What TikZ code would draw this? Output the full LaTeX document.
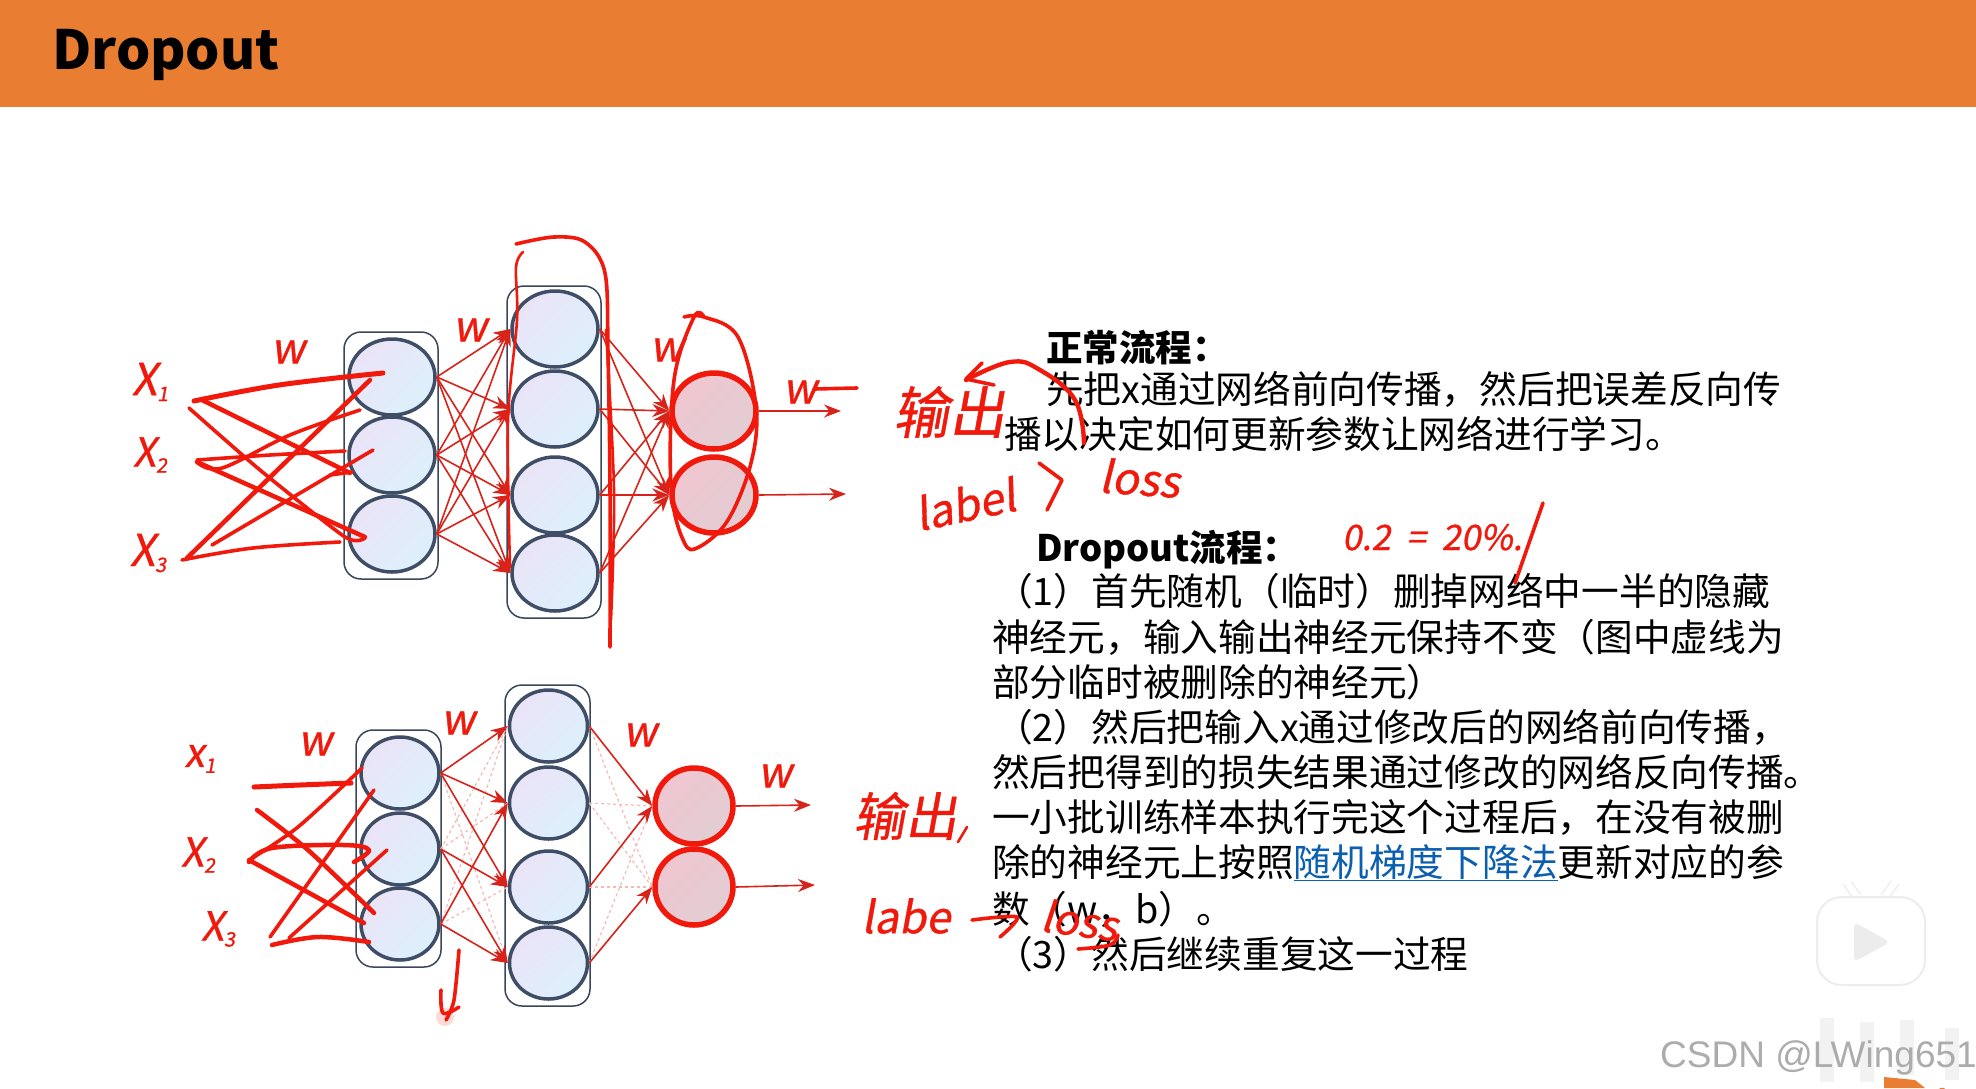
\documentclass[tikz,border=0pt]{standalone}
\usepackage{fontspec}
\usepackage{xcolor}
\setmainfont{Noto Sans CJK SC}
\newfontfamily\cjk{Noto Sans CJK SC}
\newfontfamily\hand{Noto Sans CJK SC}[FakeSlant=0.18,FakeBold=0.8]
\newfontfamily\latn{Liberation Sans}
\usetikzlibrary{shapes.geometric,arrows.meta,shadows}
\definecolor{hred}{HTML}{F0190C}
\definecolor{wire}{HTML}{D8231A}
\definecolor{ghost}{HTML}{F6B9B2}
\definecolor{ring}{HTML}{3F4E66}
\definecolor{orangebar}{HTML}{E97E32}
\definecolor{linkblue}{HTML}{0B5FB0}
\definecolor{cellA}{HTML}{EAE4F7}
\definecolor{cellB}{HTML}{DDF0FC}
\definecolor{outA}{HTML}{F0C6D0}
\definecolor{outB}{HTML}{E2CDD3}
\newcommand{\hsub}[1]{{\fontsize{20}{20}\selectfont\raisebox{-6pt}{#1}}}
\tikzset{
  x=1pt,y=-1pt,
  layerbox/.style={draw=ring!90!black,line width=1.5pt,rounded corners=17pt,fill=none},
  bigneuron/.style={ellipse,draw=ring,line width=3.5pt,inner sep=0pt,minimum width=86pt,minimum height=76pt,left color=cellA,right color=cellB,shading angle=45},
  smallneuron/.style={bigneuron,minimum width=78pt,minimum height=72pt},
  outneuron/.style={ellipse,draw=hred,line width=5.5pt,inner sep=0pt,minimum width=84pt,minimum height=76pt,left color=outA,right color=outB,shading angle=45},
  outneuronb/.style={outneuron,minimum width=78pt},
  wireline/.style={draw=wire,line width=1.6pt,-{Stealth[length=17pt,width=13pt]}},
  ghostline/.style={draw=ghost,line width=1.2pt,dashed},
  handstroke/.style={draw=hred,line width=3.6pt,line cap=round,line join=round},
  handthin/.style={handstroke,line width=2.6pt},
  handlabel/.style={text=hred,inner sep=0pt,font=\hand\fontsize{#1}{#1}\selectfont},
  bodytext/.style={anchor=base west,inner sep=0pt,font=\cjk\fontsize{37.7}{37.7}\selectfont},
  headtext/.style={anchor=base west,inner sep=0pt,font=\cjk\bfseries\fontsize{36.5}{36.5}\selectfont},
}
\begin{document}
\begin{tikzpicture}
\useasboundingbox (0,0) rectangle (1976,1088);
\fill[white] (0,0) rectangle (1976,1088);
\fill[orangebar] (0,0) rectangle (1976,107);
\node[anchor=base west,inner sep=0pt,font=\cjk\bfseries\fontsize{54}{54}\selectfont] (title) at (52,69) {Dropout};

% body text
\node[headtext] (t1) at (1046,361) {正常流程：};
\node[bodytext] (t2) at (1046,403) {先把x通过网络前向传播，然后把误差反向传};
\node[bodytext] (t3) at (1004,448) {播以决定如何更新参数让网络进行学习。};
\node[headtext] (t4) at (1036,561) {Dropout流程：};
\node[bodytext] (t5) at (995,605) {（1）首先随机（临时）删掉网络中一半的隐藏};
\node[bodytext] (t6) at (992,651) {神经元，输入输出神经元保持不变（图中虚线为};
\node[bodytext] (t7) at (992,696) {部分临时被删除的神经元）};
\node[bodytext] (t8) at (995,741) {（2）然后把输入x通过修改后的网络前向传播，};
\node[bodytext] (t9) at (992,786) {然后把得到的损失结果通过修改的网络反向传播。};
\node[bodytext] (t10) at (992,831) {一小批训练样本执行完这个过程后，在没有被删};
\node[bodytext] (t11) at (992,876) {除的神经元上按照{\color{linkblue}\underline{随机梯度下降法}}更新对应的参};
\node[bodytext] (t12) at (992,923) {数（w，b）。};
\node[bodytext] (t13) at (995,968) {（3）然后继续重复这一过程};

% top network
\draw[layerbox] (344,332) rectangle (438,579);
\draw[layerbox] (507,286) rectangle (601,618);
\foreach \n/\y in {a1/377,a2/455,a3/534} \node[bigneuron] (\n) at (392,\y) {};
\foreach \n/\y in {b1/329,b2/409,b3/495,b4/573} \node[bigneuron] (\n) at (555,\y) {};
\node[outneuron] (o1) at (714,411) {};
\node[outneuron] (o2) at (714,495) {};
\coordinate (oe1) at (841,411);
\coordinate (oe2) at (846,494);
\foreach \s in {a1,a2,a3} \foreach \t in {b1,b2,b3,b4} \draw[wireline] (\s.east) -- (\t.west);
\foreach \s in {b1,b2,b3,b4} \foreach \t in {o1,o2} \draw[wireline] (\s.east) -- (\t.west);
\draw[wireline] (o1.east) -- (oe1);
\draw[wireline] (o2.east) -- (oe2);

% bottom network
\draw[layerbox] (356,730) rectangle (441,967);
\draw[layerbox] (505,685) rectangle (590,1006);
\foreach \n/\y in {c1/773,c2/849,c3/924} \node[smallneuron] (\n) at (400,\y) {};
\foreach \n/\y in {d1/726,d2/803,d3/887,d4/963} \node[smallneuron] (\n) at (548.5,\y) {};
\node[outneuronb] (p1) at (694,806) {};
\node[outneuronb] (p2) at (694,887) {};
\coordinate (pe1) at (811,805);
\coordinate (pe2) at (815,885);
\foreach \s/\t in {c1/d4,c2/d1,c2/d2,c3/d1,c3/d3,d1/p2,d2/p1,d2/p2,d3/p2,d4/p1}
  \draw[ghostline] (\s.east) -- (\t.west);
\foreach \s/\t in {c1/d1,c1/d2,c1/d3,c2/d3,c2/d4,c3/d2,c3/d4,d1/p1,d3/p1,d4/p2}
  \draw[wireline] (\s.east) -- (\t.west);
\draw[wireline] (p1.east) -- (pe1);
\draw[wireline] (p2.east) -- (pe2);

% handwriting: top network
\node[handlabel=44] (hx1) at (150,382) {X\hsub{1}};
\node[handlabel=40] (hx2) at (150,455) {X\hsub{2}};
\node[handlabel=44] (hx3) at (148,553) {X\hsub{3}};
\node[handlabel=42] (hw1) at (288,352) {w};
\node[handlabel=42] (hw2) at (470,330) {w};
\node[handlabel=42] (hw3) at (667,350) {w};
\node[handlabel=42] (hw4) at (800,392) {w};
\draw[handstroke] (814,389) -- (857,388);

\draw[handstroke,line width=5pt] plot[smooth,tension=.6] coordinates {(194,401) (279,385) (383,373)};
\draw[handstroke,line width=4.5pt] (202,400) -- (350,473);
\draw[handstroke] plot[smooth,tension=.4] coordinates {(189,408) (260,470) (345,537) (365,538)};
\draw[handstroke] plot[smooth,tension=.5] coordinates {(197,460) (270,455) (345,451)};
\draw[handstroke] plot[smooth,tension=.6] coordinates {(197,462) (222,468) (290,435) (360,410)};
\draw[handstroke,line width=4.5pt] (197,462) -- (365,537);
\draw[handstroke,line width=4.5pt] (187,558) -- (370,380);
\draw[handstroke] (212,545) -- (373,450);
\draw[handstroke] plot[smooth,tension=.6] coordinates {(182,560) (253,548) (340,542)};
\draw[handstroke] (330,475) -- (352,472);

\draw[handstroke] plot[smooth,tension=.55] coordinates {(516,244) (554,237) (585,242) (605,273) (608,353) (610,487) (610,647)};
\draw[handthin] plot[smooth,tension=.55] coordinates {(523,252) (516,267) (517,320) (508,420) (510,567)};
\draw[handthin] plot[smooth,tension=.55] coordinates {(606,330) (614,490) (611,620)};
\draw[handstroke] plot[smooth,tension=.6] coordinates {(684,317) (704,317) (738,337) (756,407) (751,463) (728,520) (699,547) (684,542) (671,487) (674,380) (694,317) (704,317)};

% handwriting: right of the top network
\node[handlabel=56] (hout1) at (949,412) {输出};
\draw[handstroke,line width=4.4pt] plot[smooth,tension=.7] coordinates {(1084,443) (1075,400) (1040,370) (1010,362) (966,380)};
\draw[handstroke] (982,363) -- (966,379) -- (994,385);
\node[handlabel=44,rotate=12] (hlab1) at (965,504) {label};
\draw[handstroke] (1039,463) -- (1062,480) -- (1047,510);
\node[handlabel=44,rotate=-4] (hloss1) at (1140,478) {loss};
\node[handlabel=35,anchor=base west] (hpct) at (1342,550) {0.2\ \ =\ \ 20\%.};
\draw[handstroke] (1543,503) -- (1515,583);

% handwriting: bottom network
\node[handlabel=40] (hy1) at (200,759) {x\hsub{1}};
\node[handlabel=40] (hy2) at (198,855) {X\hsub{2}};
\node[handlabel=40] (hy3) at (218,929) {X\hsub{3}};
\node[handlabel=42] (hw5) at (315,744) {w};
\node[handlabel=42] (hw6) at (458,723) {w};
\node[handlabel=42] (hw7) at (640,735) {w};
\node[handlabel=42] (hw8) at (775,776) {w};
\draw[handstroke,line width=5pt] plot[smooth,tension=.5] coordinates {(254,787) (300,785) (351,783)};
\draw[handstroke] plot[smooth,tension=.5] coordinates {(249,860) (298,827) (362,768)};
\draw[handstroke] (270,937) -- (374,790);
\draw[handstroke,line width=4.5pt] plot[smooth,tension=.5] coordinates {(257,810) (308,850) (374,913)};
\draw[handstroke,line width=4.5pt] (249,860) -- (364,923);
\draw[handstroke,line width=4.5pt] plot[smooth,tension=.6] coordinates {(249,862) (272,848) (344,845) (369,850) (354,862)};
\draw[handstroke] (289,938) -- (387,850);
\draw[handstroke,line width=4.5pt] plot[smooth,tension=.6] coordinates {(272,945) (318,937) (369,942)};
\fill[ghost,opacity=.5] (445,1017) circle (9);
\draw[handstroke] plot[smooth,tension=.5] coordinates {(459,950) (454,1000) (446,1020)};
\draw[handstroke] plot[smooth,tension=.6] coordinates {(441,990) (443,1013) (459,1007)};

% handwriting: right of the bottom network
\node[handlabel=52] (hout2) at (905,816) {输出};
\draw[handthin] (958,842) -- (967,827);
\node[handlabel=44] (hlab2) at (906,916) {labe};
\draw[handstroke] plot[smooth,tension=.5] coordinates {(972,920) (1017,917) (1000,937)};
\node[handlabel=42,rotate=-8] (hloss2) at (1080,920) {loss};
\draw[handstroke] plot[smooth,tension=.6] coordinates {(1078,949) (1110,945) (1118,935)};

% bilibili mark and watermark
\draw[white,line width=7pt,line cap=round] (1847,885) -- (1858,898);
\draw[white,line width=7pt,line cap=round] (1895,885) -- (1882,898);
\draw[gray!14,line width=2pt,fill=white,rounded corners=25pt] (1817,897) rectangle (1925,985);
\draw[gray!14,line width=1.2pt] (1843,884) -- (1853,898) (1851,881) -- (1861,895) (1899,884) -- (1889,898) (1891,881) -- (1881,895);
\fill[gray!15,rounded corners=5pt] (1854,922) -- (1890,942) -- (1854,962) -- cycle;
\foreach \bx/\bt/\bb in {1820/1018/1082,1860/1022/1082,1900/1020/1075,1945/1028/1080}
  \fill[gray!10] (\bx,\bt) rectangle (\bx+14,\bb);
\node[anchor=base west,inner sep=0pt,text=gray!65,font=\latn\fontsize{37}{37}\selectfont] (mark) at (1660,1067) {CSDN @LWing651};
\fill[orangebar] (1884,1077) -- (1915,1080) -- (1925,1088) -- (1884,1088) -- cycle;
\draw[orangebar,line width=5pt] (1942,1088) arc[start angle=180,end angle=30,radius=18];
\end{tikzpicture}
\end{document}
